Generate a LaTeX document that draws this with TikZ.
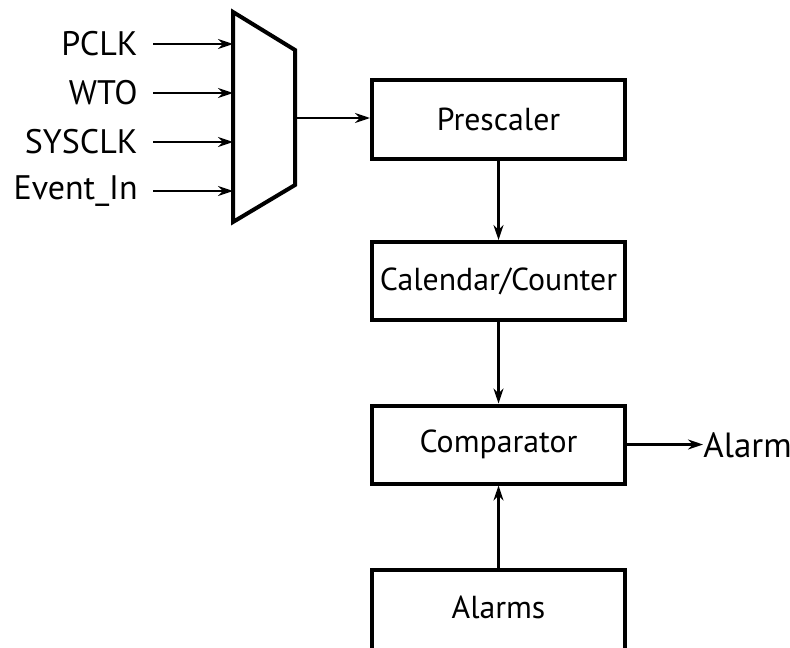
\documentclass[tikz,border=0pt]{standalone}
\usepackage{fontspec}
\setmainfont{PT Sans}
\usepackage{tikz}
\usetikzlibrary{arrows.meta}
\tikzset{
	blk/.style={draw, line width=2pt, minimum width=126.5pt, minimum height=39pt,
		inner sep=0pt, font=\fontsize{15.9}{18}\selectfont},
	lbl/.style={inner sep=0pt, font=\fontsize{17}{19}\selectfont},
	wire/.style={line width=1.1pt, -{Stealth[length=7.5pt, width=5pt]}}
}
\newcommand{\muxin}[3]{   % name, y, text
	\node[lbl, anchor=east] (#1) at (138, #2) {#3};
	\draw[wire] (153, #2) -- (233, #2);
}

\begin{document}
\begin{tikzpicture}[x=0.5pt, y=-0.5pt]
\clip (0, 0) rectangle (790, 647);

% clock source mux
\draw[line width=2pt, line join=miter] (233, 12) -- (295, 50) -- (295, 185) -- (233, 222) -- cycle;
\coordinate (muxout) at (295, 118);

\muxin{pclk}{44}{PCLK};
\muxin{wto}{93}{WTO};
\muxin{sysclk}{142}{SYSCLK};
\muxin{evin}{191}{Event\_In};

\node[blk] (pre) at (498.5, 119.5) {Prescaler};
\node[blk] (cal) at (498.5, 281) {Calendar/Counter};
\node[blk] (cmp) at (498.5, 444.5) {Comparator};
\node[blk, minimum height=44pt] (alms) at (498.5, 614) {};
\node[lbl, font=\fontsize{15.9}{18}\selectfont] at (498.5, 607) {Alarms};
\node[lbl, anchor=west, font=\fontsize{17.5}{19}\selectfont] (alarm) at (703, 445) {Alarm};

\draw[wire] (muxout) -- (muxout -| pre.west);
\draw[wire] (pre.south) -- (cal.north);
\draw[wire] (cal.south) -- (cmp.north);
\draw[wire] (alms.north) -- (cmp.south);
\draw[wire] (cmp.east) -- (cmp.east -| alarm.west);
\end{tikzpicture}
\end{document}
